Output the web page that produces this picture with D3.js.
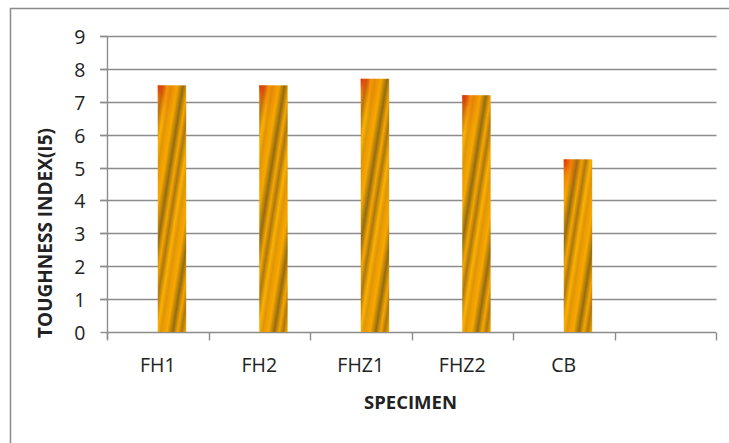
<!DOCTYPE html>
<html><head><meta charset="utf-8">
<script src="https://cdn.jsdelivr.net/npm/d3@7"></script>
<style>
html,body{margin:0;padding:0;background:#fff;}
svg{display:block;}
text{font-family:"Open Sans",sans-serif;fill:#222;}
</style></head>
<body>
<svg id="chart" width="729" height="443"></svg>
<script>
const categories = ["FH1","FH2","FHZ1","FHZ2","CB",""];
const toughness = [7.5, 7.5, 7.7, 7.2, 5.25, null];
const yTicks = [0,1,2,3,4,5,6,7,8,9];
const xTitle = "SPECIMEN";
const yTitle = "TOUGHNESS INDEX(I5)";

const svg = d3.select("#chart");
const defs = svg.append("defs");

// outer frame
svg.append("rect").attr("x",10.5).attr("y",8.5).attr("width",740).attr("height",460)
  .attr("fill","#fff").attr("stroke","#8a8a8a").attr("stroke-width",1.5);

const x = d3.scaleBand().domain(categories.map((c,i)=>i)).range([107,716]).padding(0);
const y = d3.scaleLinear().domain([0,9]).range([332,36]);

// gridlines
svg.append("g").selectAll("line").data(yTicks.filter(t=>t>0)).join("line")
  .attr("x1",100).attr("x2",716.5)
  .attr("y1",d=>Math.round(y(d))+0.5).attr("y2",d=>Math.round(y(d))+0.5)
  .attr("stroke","#8c8c8c").attr("stroke-width",1.4);

// y axis
const yAxis = svg.append("g").attr("transform","translate(107.5,0)")
  .call(d3.axisLeft(y).tickValues(yTicks).tickSize(7).tickPadding(15).tickFormat(d3.format("d")));
yAxis.select(".domain").attr("stroke","#8c8c8c").attr("stroke-width",1.4).attr("d","M0,"+y(9)+"V"+(y(0)+7));
yAxis.selectAll(".tick line").attr("stroke","#8c8c8c").attr("stroke-width",1.4);
yAxis.selectAll(".tick").attr("transform",d=>"translate(0,"+(Math.round(y(d))+0.5)+")");
yAxis.selectAll("text").attr("font-size",19.5).attr("font-family","Open Sans").attr("fill","#222").attr("dy","0.36em");

// x axis
const xa = svg.append("g").attr("transform","translate(0,"+(Math.round(y(0))+0.5)+")");
xa.append("line").attr("x1",x.range()[0]).attr("x2",x.range()[1]).attr("stroke","#8c8c8c").attr("stroke-width",1.4);
const bounds = categories.map((c,i)=>x(i)).concat([x.range()[1]]);
xa.selectAll("line.tk").data(bounds).join("line").attr("class","tk")
  .attr("x1",d=>Math.round(d)+0.5).attr("x2",d=>Math.round(d)+0.5).attr("y1",0).attr("y2",8)
  .attr("stroke","#8c8c8c").attr("stroke-width",1.4);
xa.selectAll("text").data(categories).join("text")
  .attr("x",(d,i)=>x(i)+x.bandwidth()/2).attr("y",39)
  .attr("text-anchor","middle").attr("font-size",19.5).text(d=>d);

// bars
const bw = x.bandwidth()*0.28;
const rg = defs.append("radialGradient").attr("id","redtint").attr("cx","0").attr("cy","0").attr("r","0.8")
  .attr("fx","0").attr("fy","0");
rg.append("stop").attr("offset","0").attr("stop-color","#e01a10").attr("stop-opacity",0.9);
rg.append("stop").attr("offset","0.4").attr("stop-color","#f04a10").attr("stop-opacity",0.3);
rg.append("stop").attr("offset","1").attr("stop-color","#f08010").attr("stop-opacity",0);

const stops = [[0,"#ec9c00"],[0.14,"#f8a800"],[0.34,"#946c12"],[0.5,"#f6a600"],[0.64,"#ad7810"],[0.8,"#fcb000"],[0.93,"#dc960a"],[1,"#ec9c00"]];
const bars = svg.append("g");
toughness.forEach((v,i)=>{
  if(v==null) return;
  const bx = x(i)+x.bandwidth()/2;
  const g = defs.append("linearGradient").attr("id","bg"+i).attr("gradientUnits","userSpaceOnUse")
    .attr("spreadMethod","repeat")
    .attr("x1",bx).attr("y1",0).attr("x2",bx+bw).attr("y2",bw*0.16);
  stops.forEach(s=>g.append("stop").attr("offset",s[0]).attr("stop-color",s[1]));
  bars.append("rect").attr("x",bx).attr("y",y(v)).attr("width",bw).attr("height",y(0)-y(v))
    .attr("fill","url(#bg"+i+")");
  bars.append("rect").attr("x",bx).attr("y",y(v)).attr("width",bw).attr("height",Math.min(50,y(0)-y(v)))
    .attr("fill","url(#redtint)");
});

// titles
svg.append("text").attr("x",410.5).attr("y",409).attr("text-anchor","middle")
  .attr("font-size",18.5).attr("font-weight","bold").attr("fill","#111").text(xTitle);
svg.append("text").attr("transform","translate(52,233) rotate(-90)").attr("text-anchor","middle")
  .attr("font-size",19).attr("font-weight","bold").attr("fill","#111").text(yTitle);
</script>
</body></html>
